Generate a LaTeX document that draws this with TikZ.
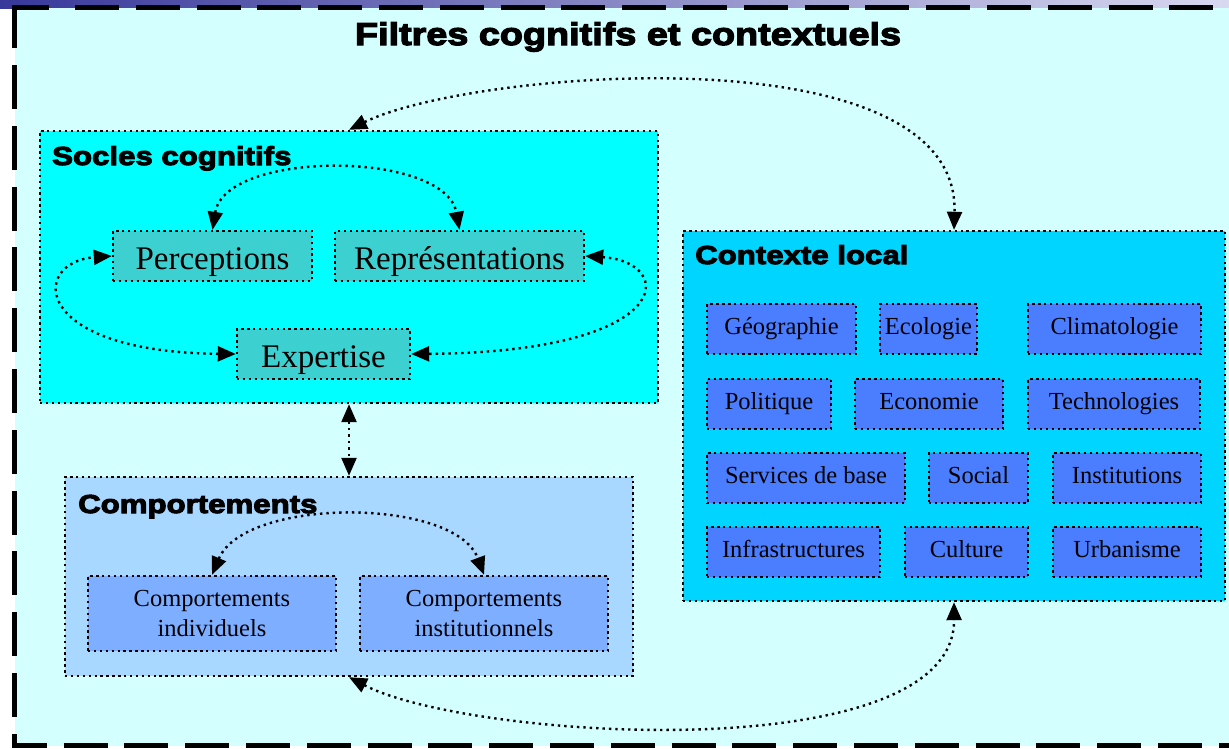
\documentclass[tikz,border=0pt]{standalone}
\usepackage{fontspec}
\setmainfont{Liberation Serif}
\newfontfamily\blackfont{Liberation Sans}[BoldFeatures={FakeBold=4,FakeStretch=1.2}]
\usetikzlibrary{arrows.meta}
\definecolor{bgc}{RGB}{212,255,255}
\definecolor{socc}{RGB}{0,255,255}
\definecolor{socin}{RGB}{60,208,208}
\definecolor{ctxc}{RGB}{0,213,255}
\definecolor{ctxin}{RGB}{74,125,255}
\definecolor{cmpc}{RGB}{168,216,255}
\definecolor{cmpin}{RGB}{126,174,255}
\definecolor{bandl}{RGB}{56,56,154}
\definecolor{bandr}{RGB}{216,216,240}
\tikzset{
  dotbox/.style={draw=black, line width=2.4pt, dash pattern=on 2.4pt off 3.5pt, inner sep=0pt, rectangle},
  socbox/.style={dotbox, fill=socin, minimum height=50pt, text height=30pt, text depth=4pt, font=\fontsize{33}{38}\selectfont},
  ctxbox/.style={dotbox, fill=ctxin, minimum height=50pt, text height=17pt, text depth=5.5pt, font=\fontsize{24.5}{29}\selectfont},
  cmpbox/.style={dotbox, fill=cmpin, minimum width=248pt, minimum height=75pt, align=center, font=\fontsize{24.5}{30}\selectfont},
  lab/.style={font=\blackfont\bfseries\fontsize{26}{30}\selectfont, anchor=base west, inner sep=0pt},
  arr/.style={line width=2.4pt, dash pattern=on 2.4pt off 4pt, {Triangle[length=18pt,width=15pt]}-{Triangle[length=18pt,width=15pt]}},
  frame/.style={line width=5pt, black, line join=miter}
}
\begin{document}
\begin{tikzpicture}[x=1pt,y=-1pt]
\useasboundingbox (0,0) rectangle (1229,748);
\clip (0,0) rectangle (1229,748);
% top band and background
\shade[left color=bandl, right color=bandr] (0,0) rectangle (1229,8);
\fill[bgc] (14.5,7.5) rectangle (1229,745.5);
% outer dashed frame
\draw[frame] (14.5,48) -- (14.5,7.5) -- (49,7.5);
\draw[frame, dash pattern=on 44pt off 16.8pt] (75,7.5) -- (1240,7.5);
\draw[frame, dash pattern=on 44pt off 16.8pt] (14.5,65) -- (14.5,745.5) -- (1240,745.5);
% title
\node[anchor=base, inner sep=0pt, font=\blackfont\bfseries\fontsize{31.5}{36}\selectfont] (T) at (628,45) {Filtres cognitifs et contextuels};
% Socles cognitifs
\node[dotbox, fill=socc, minimum width=618pt, minimum height=272pt] (S) at (349,267) {};
\node[lab] (SL) at (52,165) {Socles cognitifs};
\node[socbox, minimum width=199pt] (P) at (212.5,256) {Perceptions};
\node[socbox, minimum width=249pt] (R) at (459.5,256) {Représentations};
\node[socbox, minimum width=173pt] (E) at (323.5,354) {Expertise};
% Contexte local
\node[dotbox, fill=ctxc, minimum width=542pt, minimum height=370pt] (K) at (954,416) {};
\node[lab] (KL) at (695,264) {Contexte local};
\node[ctxbox, minimum width=149pt] (k1) at (781.5,329) {Géographie};
\node[ctxbox, minimum width=97pt] (k2) at (928.5,329) {Ecologie};
\node[ctxbox, minimum width=173pt] (k3) at (1114.5,329) {Climatologie};
\node[ctxbox, minimum width=124pt] (k4) at (769,404) {Politique};
\node[ctxbox, minimum width=148pt] (k5) at (929,404) {Economie};
\node[ctxbox, minimum width=172pt] (k6) at (1114,404) {Technologies};
\node[ctxbox, minimum width=198pt] (k7) at (806,478) {Services de base};
\node[ctxbox, minimum width=99pt] (k8) at (978.5,478) {Social};
\node[ctxbox, minimum width=148pt] (k9) at (1127,478) {Institutions};
\node[ctxbox, minimum width=173pt] (k10) at (793.5,552) {Infrastructures};
\node[ctxbox, minimum width=123pt] (k11) at (966.5,552) {Culture};
\node[ctxbox, minimum width=148pt] (k12) at (1127,552) {Urbanisme};
% Comportements
\node[dotbox, fill=cmpc, minimum width=568pt, minimum height=199pt] (C) at (349,576.5) {};
\node[lab] (CL) at (78,513) {Comportements};
\node[cmpbox] (CI) at (212,613.5) {Comportements\\individuels};
\node[cmpbox] (CN) at (484,613.5) {Comportements\\institutionnels};
% connectors
\draw[arr] (P.north) .. controls (225,150) and (445,150) .. (R.north);
\draw[arr] (E.west) .. controls (30,352) and (30,262) .. (P.west);
\draw[arr] (R.east) .. controls (677,262) and (677,352) .. (E.east);
\draw[arr] (CI.north) .. controls (245,497) and (455,497) .. (CN.north);
\draw[arr] (S.south) -- (C.north);
\draw[arr] (S.north) .. controls (470,70) and (960,30) .. (K.north);
\draw[arr] (C.south) .. controls (470,740) and (955,770) .. (K.south);
\end{tikzpicture}
\end{document}
